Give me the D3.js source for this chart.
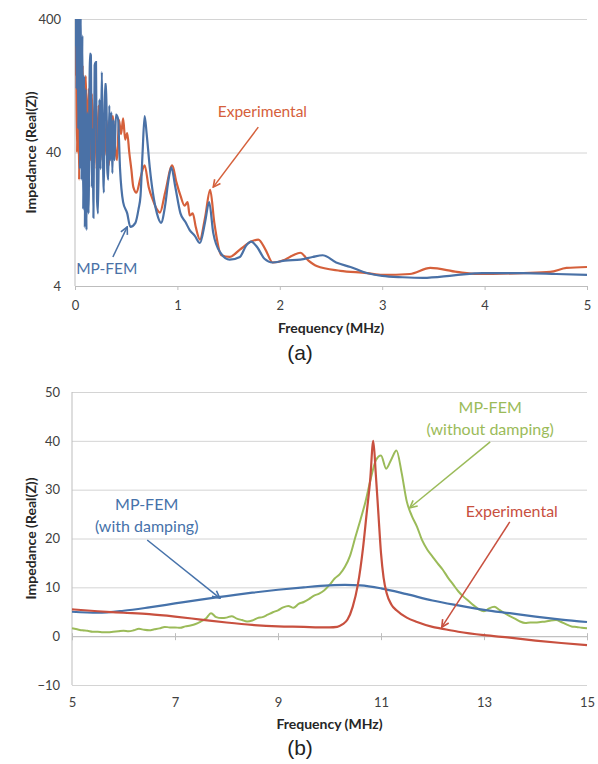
<!DOCTYPE html>
<html lang="en">
<head>
  <meta charset="utf-8">
  <title>Impedance vs frequency</title>
  <script src="https://d3js.org/d3.v7.min.js"></script>
  <style>
    body { margin: 0; background: #fff; }
    text { font-family: Lato, "Open Sans", sans-serif; }
  </style>
</head>
<body>
  <div id="chart"></div>
  <script>
    // ---- panel (a) data : frequency (MHz) / Real(Z) ----
    var aXTicks = [0, 1, 2, 3, 4, 5];
    var aYTicks = [4, 40, 400];

    var aFreqExp = [0, 0.01, 0.02, 0.03, 0.04, 0.05, 0.06, 0.075, 0.09, 0.105, 0.12, 0.135, 0.15, 0.165, 0.18, 0.195,
      0.21, 0.23, 0.25, 0.27, 0.29, 0.31, 0.33, 0.35, 0.37, 0.39, 0.41, 0.43, 0.45, 0.47, 0.49, 0.51, 0.53, 0.55, 0.57,
      0.6, 0.64, 0.68, 0.72, 0.76, 0.8, 0.83, 0.88, 0.95, 0.99, 1.03, 1.07, 1.1, 1.12, 1.15, 1.18, 1.22, 1.27, 1.32, 1.36,
      1.43, 1.51, 1.61, 1.72, 1.79, 1.86, 1.93, 2.05, 2.13, 2.2, 2.28, 2.36, 2.59, 2.85, 3.0, 3.27, 3.47, 3.73, 3.93, 4.38,
      4.64, 4.8, 5.0];
    var aExp = [150, 300, 40, 250, 25, 200, 35, 180, 40, 150, 45, 120, 35, 110, 40, 100,
      30, 90, 35, 80, 38, 70, 32, 60, 75, 45, 35, 70, 55, 72, 50, 56, 40, 30, 22,
      20, 26, 32, 22, 17.7, 15, 14.2, 20, 32, 24, 19, 16, 17, 13.5, 14, 11, 8.9, 13, 21, 12,
      6.8, 6.6, 7.5, 8.6, 8.9, 7.5, 6.0, 6.3, 6.8, 7.1, 6.2, 5.65, 5.2, 5.0, 4.84, 4.92, 5.46, 5.1, 4.92, 5.0,
      5.1, 5.46, 5.55];

    var aFreqFem = [0, 0.008, 0.016, 0.024, 0.032, 0.040, 0.048, 0.056, 0.064, 0.072, 0.080, 0.088, 0.096, 0.104, 0.112,
      0.122, 0.132, 0.146, 0.155, 0.164, 0.172, 0.180, 0.192, 0.205, 0.215, 0.225, 0.238, 0.250, 0.262, 0.272, 0.282,
      0.292, 0.305, 0.315, 0.325, 0.335, 0.345, 0.355, 0.365, 0.375, 0.385, 0.40, 0.42, 0.44, 0.47, 0.51, 0.54, 0.59,
      0.62, 0.64, 0.66, 0.68, 0.70, 0.73, 0.77, 0.80, 0.84, 0.88, 0.91, 0.94, 0.98, 1.03, 1.08, 1.12, 1.17, 1.22, 1.27,
      1.31, 1.35, 1.42, 1.51, 1.61, 1.67, 1.72, 1.78, 1.85, 1.93, 2.05, 2.2, 2.32, 2.42, 2.55, 2.69, 2.85, 3.0, 3.2, 3.4,
      3.7, 3.98, 4.38, 4.7, 5.0];
    var aFem = [250, 900, 120, 700, 60, 900, 30, 500, 25, 300, 15, 150, 11, 120, 10.5,
      80, 14, 220, 215, 22, 60, 13, 180, 190, 18, 14, 100, 30, 160, 40, 20,
      130, 130, 30, 25, 90, 35, 80, 28, 70, 35, 77, 72, 30, 17, 14, 11.1, 11.9,
      15, 19, 40, 75, 55, 31, 18, 14, 11.9, 16, 24, 31, 22, 14, 12, 10.5, 9.5, 8.4, 12,
      17, 10, 7.1, 6.3, 6.6, 8, 8.6, 7.8, 6.4, 6.0, 6.2, 6.3, 6.6, 6.8, 6.0, 5.55, 5.0, 4.76, 4.65, 4.6,
      4.8, 5.0, 5.0, 4.92, 4.84];

    // ---- panel (b) data ----
    var bXTicks = [5, 7, 9, 11, 13, 15];
    var bYTicks = [-10, 0, 10, 20, 30, 40, 50];

    var bFreqNoDamp = [5.0, 5.1, 5.2, 5.3, 5.4, 5.5, 5.6, 5.7, 5.8, 5.9, 6.0, 6.1, 6.2, 6.3, 6.4, 6.5, 6.6, 6.7, 6.8, 6.9,
      7.0, 7.1, 7.2, 7.3, 7.4, 7.5, 7.6, 7.7, 7.8, 7.9, 8.0, 8.1, 8.2, 8.3, 8.4, 8.5, 8.6, 8.7, 8.8, 8.9,
      9.0, 9.1, 9.2, 9.3, 9.4, 9.5, 9.6, 9.7, 9.8, 9.9, 10.0, 10.1, 10.2, 10.3, 10.4, 10.5, 10.6, 10.7, 10.8, 10.9,
      11.0, 11.1, 11.2, 11.3, 11.4, 11.5, 11.6, 11.7, 11.8, 11.9, 12.0, 12.1, 12.2, 12.3, 12.4, 12.5, 12.6, 12.7, 12.8, 12.9,
      13.0, 13.1, 13.2, 13.3, 13.4, 13.5, 13.6, 13.7, 13.8, 13.9, 14.0, 14.1, 14.2, 14.3, 14.4, 14.5, 14.6, 14.7, 14.8, 14.9,
      15.0];
    var bNoDamp = [1.6, 1.4, 1.2, 1.1, 0.9, 0.9, 0.8, 0.8, 0.9, 1.0, 1.1, 1.0, 1.2, 1.5, 1.3, 1.2, 1.4, 1.6, 1.9, 1.8,
      1.8, 1.7, 2.0, 2.2, 2.5, 3.0, 3.6, 4.7, 3.9, 3.7, 3.8, 4.1, 3.6, 3.3, 3.0, 3.2, 3.7, 3.9, 4.4, 4.9,
      5.3, 5.9, 6.2, 5.8, 6.6, 7.0, 7.6, 8.3, 8.7, 9.4, 10.5, 11.8, 12.7, 14.2, 16.5, 20.2, 23.8, 27.6, 32.2, 36.0,
      37.0, 34.3, 36.2, 38.0, 33.5, 27.6, 24.6, 22.4, 19.6, 17.7, 16.3, 14.9, 13.6, 12.0, 10.6, 9.2, 8.1, 7.2, 6.3, 5.5,
      5.1, 5.7, 6.0, 5.4, 4.7, 4.1, 3.6, 3.0, 2.7, 2.8, 2.8, 2.9, 3.0, 3.2, 3.3, 2.9, 2.4, 2.0, 1.9, 1.7,
      1.6];

    var bFreqDamp = [5, 5.5, 6, 6.5, 7, 7.5, 8, 8.5, 9, 9.5, 10, 10.3, 10.6, 11, 11.5, 12, 12.5, 13, 13.5, 14, 14.5, 15];
    var bDamp = [5.0, 4.8, 5.2, 5.9, 6.7, 7.5, 8.2, 8.9, 9.5, 10.0, 10.4, 10.5, 10.4, 9.8, 8.6, 7.3, 6.3, 5.4, 4.7, 4.0, 3.4, 2.9];

    var bFreqExp = [5, 5.5, 6, 6.5, 7, 7.5, 8, 8.5, 9, 9.5, 9.8, 10, 10.15, 10.25, 10.35, 10.45, 10.55, 10.65, 10.72, 10.79,
      10.85, 10.9, 10.95, 11.0, 11.05, 11.11, 11.2, 11.3, 11.5, 11.7, 12.0, 12.15, 12.5, 13, 13.5, 14, 14.5, 15];
    var bExp = [5.5, 5.1, 4.8, 4.5, 4.0, 3.4, 2.8, 2.3, 2.0, 1.9, 1.8, 1.8, 1.9, 2.4, 3.4, 6.0, 10.5, 18, 25, 32,
      40, 33, 25, 17, 12, 8.8, 6.5, 5.3, 3.8, 2.9, 1.9, 1.6, 0.9, 0.2, -0.3, -0.9, -1.4, -1.85];

    var zip = (xs, ys) => xs.map((x, i) => ({ x: x, y: ys[i] }));

    var svg = d3.select("#chart").append("svg")
      .attr("width", 598).attr("height", 764);

    var defs = svg.append("defs");
    function arrowMarker(id, color) {
      defs.append("marker").attr("id", id)
        .attr("viewBox", "0 0 10 10").attr("refX", 9).attr("refY", 5)
        .attr("markerWidth", 9).attr("markerHeight", 9).attr("markerUnits", "userSpaceOnUse")
        .attr("orient", "auto")
        .append("path").attr("d", "M1,1 L9,5 L1,9")
        .attr("fill", "none").attr("stroke", color).attr("stroke-width", 1.8);
    }

    var gridColor = "#d4d4d4", axisColor = "#bdbdbd", tickText = "#404040";

    // =========================== (a) ===========================
    var A = { left: 75, right: 587, top: 19, bottom: 286 };
    var xA = d3.scaleLinear().domain([0, 5]).range([A.left, A.right]);
    var yA = d3.scaleLog().domain([4, 400]).range([A.bottom, A.top]);

    svg.append("g").attr("transform", "translate(" + A.left + ",0)")
      .call(d3.axisLeft(yA).tickValues(aYTicks).tickFormat(d3.format("d"))
        .tickSize(-(A.right - A.left)).tickPadding(14))
      .call(g => g.select(".domain").remove())
      .call(g => g.selectAll(".tick line").attr("stroke", gridColor))
      .call(g => g.selectAll(".tick text").attr("fill", tickText).style("font-size", "13px"));

    svg.append("line").attr("x1", A.left).attr("x2", A.left).attr("y1", A.top).attr("y2", A.bottom)
      .attr("stroke", axisColor);

    svg.append("g").attr("transform", "translate(0," + A.bottom + ")")
      .call(d3.axisBottom(xA).tickValues(aXTicks).tickFormat(d3.format("d")).tickSize(4).tickPadding(11))
      .call(g => g.select(".domain").attr("stroke", axisColor))
      .call(g => g.selectAll(".tick line").attr("stroke", axisColor))
      .call(g => g.selectAll(".tick text").attr("fill", tickText).style("font-size", "13px"));

    defs.append("clipPath").attr("id", "clipA").append("rect")
      .attr("x", A.left).attr("y", A.top).attr("width", A.right - A.left).attr("height", A.bottom - A.top);

    var lineA = d3.line().x(d => xA(d.x)).y(d => yA(d.y)).curve(d3.curveMonotoneX);
    var plotA = svg.append("g").attr("clip-path", "url(#clipA)");
    plotA.append("path").datum(zip(aFreqExp, aExp)).attr("d", lineA)
      .attr("fill", "none").attr("stroke", "#d5603b").attr("stroke-width", 2.2);
    plotA.append("path").datum(zip(aFreqFem, aFem)).attr("d", lineA)
      .attr("fill", "none").attr("stroke", "#4a71a6").attr("stroke-width", 2.2);

    svg.append("text").attr("x", (A.left + A.right) / 2).attr("y", 333)
      .attr("text-anchor", "middle").attr("fill", "#262626")
      .style("font-size", "14px").style("font-weight", "bold").text("Frequency (MHz)");
    svg.append("text").attr("transform", "translate(36," + ((A.top + A.bottom) / 2) + ") rotate(-90)")
      .attr("text-anchor", "middle").attr("fill", "#262626")
      .style("font-size", "14px").style("font-weight", "bold").text("Impedance (Real(Z))");
    svg.append("text").attr("x", 300).attr("y", 360).attr("text-anchor", "middle")
      .style("font-family", "'Liberation Sans', Arial, sans-serif").style("font-size", "21px")
      .attr("fill", "#222").text("(a)");

    // annotations (a), placed in data units
    arrowMarker("arrExpA", "#d5603b");
    arrowMarker("arrFemA", "#4a71a6");
    svg.append("text").attr("x", xA(1.83)).attr("y", yA(81)).attr("dy", "0.35em")
      .attr("text-anchor", "middle").attr("fill", "#d5603b").style("font-size", "15.5px").text("Experimental");
    svg.append("line").attr("x1", xA(1.79)).attr("y1", yA(62)).attr("x2", xA(1.35)).attr("y2", yA(22))
      .attr("stroke", "#d5603b").attr("stroke-width", 1.5).attr("marker-end", "url(#arrExpA)");
    svg.append("text").attr("x", xA(0.31)).attr("y", yA(5.4)).attr("dy", "0.35em")
      .attr("text-anchor", "middle").attr("fill", "#4a71a6").style("font-size", "15.5px").text("MP-FEM");
    svg.append("line").attr("x1", xA(0.37)).attr("y1", yA(6.6)).attr("x2", xA(0.51)).attr("y2", yA(11.1))
      .attr("stroke", "#4a71a6").attr("stroke-width", 1.5).attr("marker-end", "url(#arrFemA)");

    // =========================== (b) ===========================
    var B = { left: 72, right: 587, top: 392, bottom: 685 };
    var xB = d3.scaleLinear().domain([5, 15]).range([B.left, B.right]);
    var yB = d3.scaleLinear().domain([-10, 50]).range([B.bottom, B.top]);

    svg.append("g").attr("transform", "translate(" + B.left + ",0)")
      .call(d3.axisLeft(yB).tickValues(bYTicks).tickSize(-(B.right - B.left)).tickPadding(12))
      .call(g => g.select(".domain").remove())
      .call(g => g.selectAll(".tick line").attr("stroke", gridColor))
      .call(g => g.selectAll(".tick text").attr("fill", tickText).style("font-size", "13px"));

    svg.append("line").attr("x1", B.left).attr("x2", B.left).attr("y1", B.top).attr("y2", B.bottom)
      .attr("stroke", axisColor);

    // horizontal axis crosses at zero, labels sit below the plot
    svg.append("g").attr("transform", "translate(0," + yB(0) + ")")
      .call(d3.axisBottom(xB).tickValues(bXTicks).tickSize(4).tickFormat(""))
      .call(g => g.select(".domain").attr("stroke", axisColor))
      .call(g => g.selectAll(".tick line").attr("stroke", axisColor).attr("y1", -3));
    svg.append("g").attr("transform", "translate(0," + B.bottom + ")")
      .call(d3.axisBottom(xB).tickValues(bXTicks).tickSize(0).tickPadding(13))
      .call(g => g.select(".domain").remove())
      .call(g => g.selectAll(".tick text").attr("fill", tickText).style("font-size", "13px"));

    var lineB = d3.line().x(d => xB(d.x)).y(d => yB(d.y)).curve(d3.curveMonotoneX);
    svg.append("path").datum(zip(bFreqNoDamp, bNoDamp)).attr("d", lineB)
      .attr("fill", "none").attr("stroke", "#9bbb59").attr("stroke-width", 2);
    svg.append("path").datum(zip(bFreqDamp, bDamp)).attr("d", lineB)
      .attr("fill", "none").attr("stroke", "#4672aa").attr("stroke-width", 2.2);
    svg.append("path").datum(zip(bFreqExp, bExp)).attr("d", lineB)
      .attr("fill", "none").attr("stroke", "#c8503f").attr("stroke-width", 2.2);

    svg.append("text").attr("x", (B.left + B.right) / 2).attr("y", 729)
      .attr("text-anchor", "middle").attr("fill", "#262626")
      .style("font-size", "14px").style("font-weight", "bold").text("Frequency (MHz)");
    svg.append("text").attr("transform", "translate(36," + ((B.top + B.bottom) / 2) + ") rotate(-90)")
      .attr("text-anchor", "middle").attr("fill", "#262626")
      .style("font-size", "14px").style("font-weight", "bold").text("Impedance (Real(Z))");
    svg.append("text").attr("x", 300).attr("y", 755).attr("text-anchor", "middle")
      .style("font-family", "'Liberation Sans', Arial, sans-serif").style("font-size", "21px")
      .attr("fill", "#222").text("(b)");

    // annotations (b)
    arrowMarker("arrDamp", "#4672aa");
    arrowMarker("arrNoDamp", "#9bbb59");
    arrowMarker("arrExpB", "#c8503f");
    var notesB = [
      { lines: ["MP-FEM", "(with damping)"], fx: 6.45, fy: 26.9, color: "#4672aa", from: [6.46, 19.7], to: [7.87, 7.8], id: "arrDamp" },
      { lines: ["MP-FEM", "(without damping)"], fx: 13.12, fy: 46.8, color: "#9bbb59", from: [13.12, 39.8], to: [11.56, 26.3], id: "arrNoDamp" },
      { lines: ["Experimental"], fx: 13.54, fy: 25.5, color: "#c8503f", from: [13.5, 23.4], to: [12.18, 1.85], id: "arrExpB" }
    ];
    notesB.forEach(n => {
      var t = svg.append("text").attr("text-anchor", "middle").attr("fill", n.color).style("font-size", "16px");
      n.lines.forEach((s, i) => {
        t.append("tspan").attr("x", xB(n.fx)).attr("y", yB(n.fy) + i * 22).attr("dy", "0.35em").text(s);
      });
      svg.append("line").attr("x1", xB(n.from[0])).attr("y1", yB(n.from[1]))
        .attr("x2", xB(n.to[0])).attr("y2", yB(n.to[1]))
        .attr("stroke", n.color).attr("stroke-width", 1.5).attr("marker-end", "url(#" + n.id + ")");
    });
  </script>
</body>
</html>
